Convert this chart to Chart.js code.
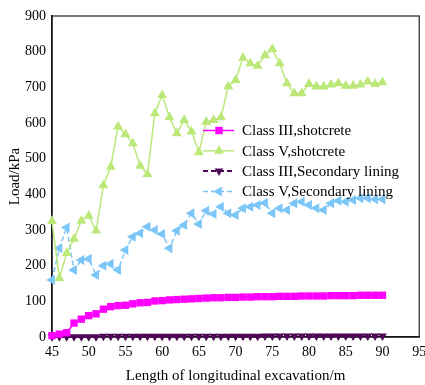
<!DOCTYPE html>
<html lang="en">
<head>
  <meta charset="UTF-8" />
  <title>Load vs excavation length</title>
  <script src="https://cdn.jsdelivr.net/npm/chart.js"></script>
  <style>
    body { margin: 0; background: #fff; }
    #wrap { width: 425px; height: 385px; }
  </style>
</head>
<body>
  <div id="wrap"><canvas id="loadChart" width="425" height="385"></canvas></div>
  <script>
    // excavation length (m)
    const lengths = [45, 46, 47, 48, 49, 50, 51, 52, 53, 54, 55, 56, 57, 58, 59, 60, 61, 62, 63, 64, 65, 66, 67,
      68, 69, 70, 71, 72, 73, 74, 75, 76, 77, 78, 79, 80, 81, 82, 83, 84, 85, 86, 87, 88, 89, 90];

    // loads (kPa)
    const class3Shotcrete = [4, 8, 12, 39, 50, 60, 65, 78, 85, 88, 89, 93, 96, 97, 101, 102, 104, 105, 106, 107, 108, 109, 110,
      110, 111, 111, 112, 112, 113, 113, 113, 114, 114, 114, 115, 115, 115, 115, 116, 116, 116, 116, 117, 117, 117, 117];
    const class5Shotcrete = [325, 165, 235, 275, 326, 340, 298, 425, 477, 590, 568, 543, 480, 457, 627, 678, 616, 571, 608, 576, 518, 603, 608,
      616, 702, 720, 783, 767, 760, 790, 807, 767, 711, 683, 683, 709, 702, 702, 708, 711, 704, 704, 708, 716, 709, 714];
    const class3Lining = [1, 1, 1, 1, 1, 1, 1, 2, 2, 2, 2, 2, 2, 2, 2, 2, 2, 2, 2, 2, 2, 2, 2,
      2, 2, 2, 2, 2, 2, 3, 3, 3, 3, 3, 3, 3, 3, 3, 3, 3, 3, 3, 3, 3, 3, 3];
    const class5Lining = [160, 249, 307, 188, 216, 219, 174, 200, 205, 188, 244, 281, 291, 309, 300, 289, 249, 298, 314, 347, 317, 354, 345,
      365, 347, 342, 361, 365, 370, 376, 347, 361, 356, 375, 379, 370, 361, 356, 375, 382, 379, 384, 389, 389, 386, 386];

    const xTicks = [45, 50, 55, 60, 65, 70, 75, 80, 85, 90, 95];
    const yTicks = [0, 100, 200, 300, 400, 500, 600, 700, 800, 900];

    const serif = "'Liberation Serif', 'Times New Roman', serif";

    function pts(vals) {
      return vals.map((v, i) => ({ x: lengths[i], y: v }));
    }

    const datasets = [
      {
        label: 'Class III,shotcrete', data: pts(class3Shotcrete),
        borderColor: '#ff00ff', backgroundColor: '#ff00ff', borderWidth: 1.5,
        pointStyle: 'rect', pointRadius: 5.2, pointRotation: 0
      },
      {
        label: 'Class V,shotcrete', data: pts(class5Shotcrete),
        borderColor: '#bce87a', backgroundColor: '#bce87a', borderWidth: 1.5,
        pointStyle: 'triangle', pointRadius: 5.8, pointRotation: 0
      },
      {
        label: 'Class III,Secondary lining', data: pts(class3Lining),
        borderColor: '#4e0657', backgroundColor: '#4e0657', borderWidth: 2.5, borderDash: [5, 3],
        pointStyle: 'triangle', pointRadius: 5, pointRotation: 180
      },
      {
        label: 'Class V,Secondary lining', data: pts(class5Lining),
        borderColor: '#7cc6f7', backgroundColor: '#7cc6f7', borderWidth: 1.5, borderDash: [5, 3],
        pointStyle: 'triangle', pointRadius: 5.8, pointRotation: 270
      }
    ];
    datasets.forEach(d => { d.pointBorderWidth = 0; d.tension = 0; d.clip = false; });

    // legend drawn inside the plot area
    const innerLegend = {
      id: 'innerLegend',
      afterDraw(chart) {
        const ctx = chart.ctx;
        ctx.save();
        chart.data.datasets.forEach((ds, i) => {
          const y = 130.5 + i * 20.3;
          ctx.strokeStyle = ds.borderColor;
          ctx.fillStyle = ds.backgroundColor;
          ctx.lineWidth = Math.min(ds.borderWidth, 2);
          ctx.setLineDash(ds.borderDash || []);
          ctx.beginPath();
          ctx.moveTo(203, y);
          ctx.lineTo(234, y);
          ctx.stroke();
          ctx.setLineDash([]);
          Chart.helpers.drawPoint(ctx, { pointStyle: ds.pointStyle, radius: ds.pointRadius, rotation: ds.pointRotation, borderWidth: 0 }, 219, y);
          ctx.fillStyle = '#000';
          ctx.font = '15px ' + serif;
          ctx.textBaseline = 'middle';
          ctx.fillText(ds.label, 242, y + 1);
        });
        ctx.restore();
      }
    };

    // frame round the plot
    const frame = {
      id: 'frame',
      beforeDatasetsDraw(chart) {
        const a = chart.chartArea, ctx = chart.ctx;
        ctx.save();
        ctx.strokeStyle = '#222';
        ctx.lineWidth = 1.2;
        ctx.strokeRect(a.left, a.top, a.right - a.left, a.bottom - a.top);
        ctx.restore();
      }
    };

    new Chart(document.getElementById('loadChart'), {
      type: 'line',
      data: { datasets: datasets },
      options: {
        responsive: false,
        animation: false,
        layout: { padding: { top: 16, right: 3, left: 0, bottom: 0 } },
        plugins: { legend: { display: false }, tooltip: { enabled: false } },
        scales: {
          x: {
            type: 'linear', min: 45, max: 95,
            afterBuildTicks: s => { s.ticks = xTicks.map(v => ({ value: v })); },
            afterFit: s => { s.height = 48; s.paddingLeft = 0; s.paddingRight = 0; },
            grid: { display: false, drawTicks: false },
            border: { color: '#000', width: 1.5 },
            ticks: { color: '#000', font: { family: serif, size: 14 }, padding: 7, maxRotation: 0, autoSkip: false },
            title: { display: true, text: 'Length of longitudinal excavation/m', color: '#000',
              font: { family: serif, size: 15 }, padding: { top: 0, bottom: 0 } }
          },
          y: {
            min: 0, max: 900,
            afterBuildTicks: s => { s.ticks = yTicks.map(v => ({ value: v })); },
            afterFit: s => { s.width = 52; s.paddingTop = 0; s.paddingBottom = 0; },
            grid: { display: false, drawTicks: false },
            border: { color: '#000', width: 1.5 },
            ticks: { color: '#000', font: { family: serif, size: 14 }, padding: 6 },
            title: { display: true, text: 'Load/kPa', color: '#000',
              font: { family: serif, size: 15 }, padding: { top: 6, bottom: 0 } }
          }
        }
      },
      plugins: [frame, innerLegend]
    });
  </script>
</body>
</html>
